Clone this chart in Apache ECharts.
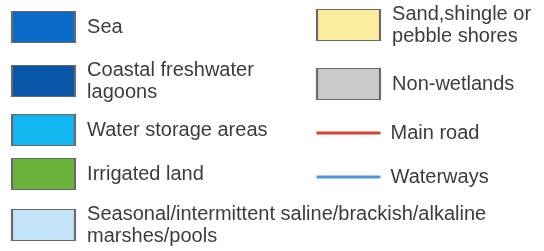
<!DOCTYPE html>
<html>
<head>
<meta charset="utf-8">
<script src="https://cdn.jsdelivr.net/npm/echarts@6/dist/echarts.min.js"></script>
<style>
  html, body { margin: 0; padding: 0; background: #fff; }
  #main { width: 544px; height: 251px; }
</style>
</head>
<body>
<div id="main"></div>
<script>
// legend entries: label, fill colour, kind (box or line), column, row centre
const labels = [
  "Sea",
  "Coastal freshwater\nlagoons",
  "Water storage areas",
  "Irrigated land",
  "Seasonal/intermittent saline/brackish/alkaline\nmarshes/pools",
  "Sand,shingle or\npebble shores",
  "Non-wetlands",
  "Main road",
  "Waterways"
];
const colors = ["#0a6cc8", "#0857a8", "#12b6f0", "#6ab43c", "#c2e3f8", "#fcec9e", "#cacaca", "#d9412f", "#4d94d6"];
const kinds = ["box", "box", "box", "box", "box", "box", "box", "line", "line"];
const columnX = [43.5, 43.5, 43.5, 43.5, 43.5, 348.5, 348.5, 348.5, 348.5];
const rowY = [27, 81, 130, 174, 225, 25, 84, 133, 177];

const chart = echarts.init(document.getElementById("main"));

const data = labels.map((name, i) => ({
  value: [columnX[i], rowY[i]],
  name: name,
  symbolSize: kinds[i] === "box" ? [63, 31] : [64, 3],
  itemStyle: {
    color: colors[i],
    opacity: 1,
    borderColor: kinds[i] === "box" ? "#6a6a6a" : colors[i],
    borderWidth: kinds[i] === "box" ? 1.5 : 0
  },
  label: { distance: kinds[i] === "box" ? 11 : 10 }
}));

chart.setOption({
  animation: false,
  grid: { left: 0, right: 0, top: 0, bottom: 0 },
  xAxis: { type: "value", min: 0, max: 544, show: false },
  yAxis: { type: "value", min: 0, max: 251, inverse: true, show: false },
  series: [
    {
      type: "scatter",
      symbol: "rect",
      data: data,
      label: {
        show: true,
        position: "right",
        formatter: p => p.name,
        color: "#3c3c3c",
        fontFamily: "Liberation Sans, Arial, sans-serif",
        fontSize: 20,
        lineHeight: 22
      }
    }
  ]
});
</script>
</body>
</html>
